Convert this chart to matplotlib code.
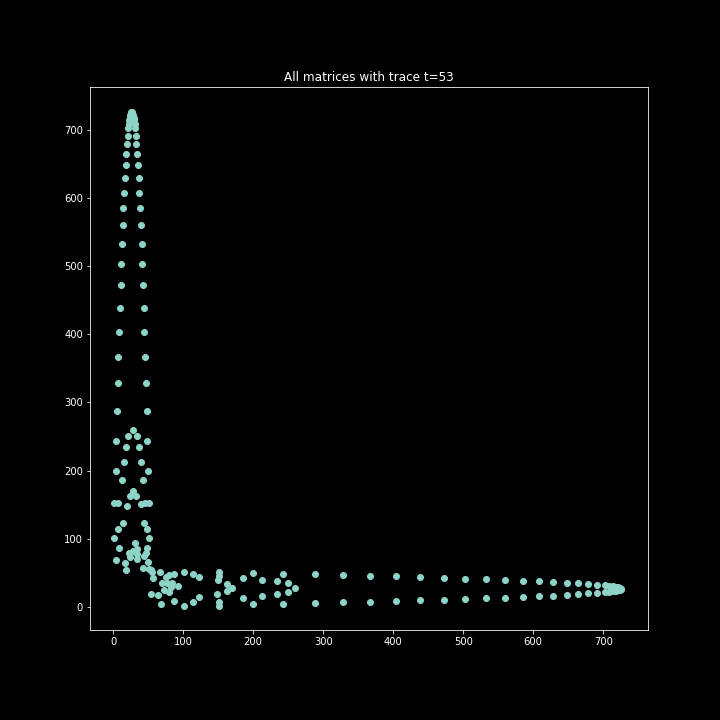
import matplotlib
matplotlib.use("Agg")
import matplotlib.pyplot as plt

plt.style.use("dark_background")

# long arms (the plot is mirrored across y = x):
# position along the arm, and the two coordinates across it
arm_pos = [726, 724, 721.5, 718, 714, 709, 703, 691.5, 679, 664, 648, 629,
           608, 585, 560, 532, 503, 473, 439, 404, 367, 329, 288]
arm_lo = [26.1, 25.3, 24.5, 23.7, 22.9, 22.1, 21.4, 20.7, 19.6, 18.5, 17.8,
          16.3, 15.3, 14.6, 13.5, 12.4, 11.7, 10.6, 9.5, 8.4, 7.7, 6.6, 5.2]
arm_hi = [26.9, 27.7, 28.5, 29.3, 30.1, 30.9, 31.6, 32.3, 33.4, 34.5, 35.2,
          36.7, 37.7, 38.4, 39.5, 40.6, 41.3, 42.4, 43.5, 44.6, 45.3, 46.4, 47.8]

# points of the central knot on the upper side of the diagonal
core_x = [28, 21.5, 34.5, 4.3, 48.6, 18.6, 37.2, 15.3, 40.1, 4.3, 49.6,
          12.9, 42.9, 28.2, 23.9, 32.9, 1, 6.7, 19.2, 39.2, 44.9, 51.1,
          14.3, 43.9, 6.7, 48.6, 1.5, 51.1, 31, 8.2, 48.6,
          22, 28.5, 34.3, 34.3, 46.5, 44, 34.3, 24.5,
          4.3, 17.7, 18.6, 42, 50.5, 51, 54]
core_y = [260, 250.5, 250.5, 243, 243, 234, 234, 212.4, 212.4, 199.2, 199.2,
          186, 186, 169.8, 162.5, 162.5, 151.7, 151.7, 148.2, 150.3, 151.7, 151.7,
          122.4, 122.4, 113.6, 113.6, 101.5, 101.5, 93, 86.6, 86.6,
          79.7, 82.5, 84.4, 77.3, 79.7, 75, 70.1, 72.5,
          68.5, 63.7, 54.5, 57, 66.5, 55, 54]

xs = arm_lo + arm_hi + core_x
ys = arm_pos + arm_pos + core_y

fig = plt.figure(figsize=(10, 10), dpi=72)
ax = fig.add_axes([90 / 720, 90 / 720, 558 / 720, 543 / 720])
ax.scatter(xs + ys, ys + xs)
ax.set_title("All matrices with trace t=53")
ax.set_xticks(range(0, 800, 100))
ax.set_yticks(range(0, 800, 100))
ax.set_xlim(-33, 764)
ax.set_ylim(-34, 763)
fig.savefig("out.png", dpi=72)
